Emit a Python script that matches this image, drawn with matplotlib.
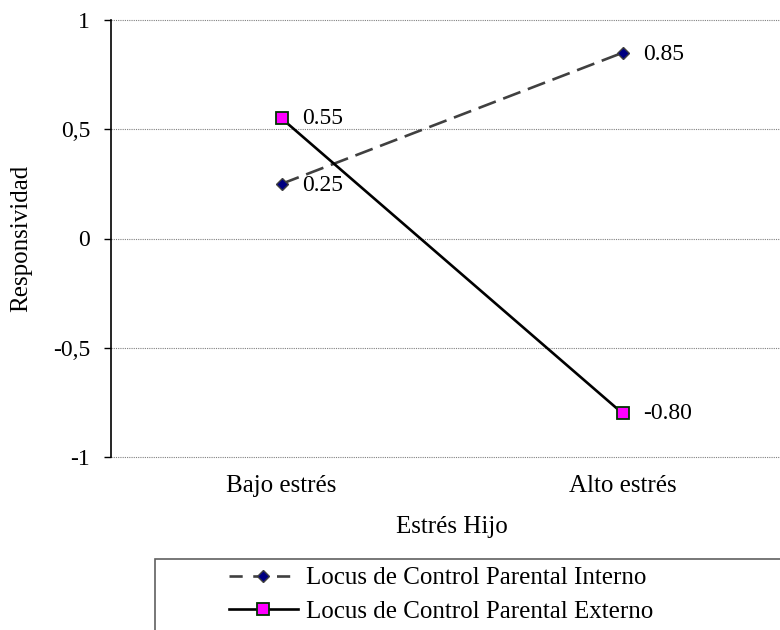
import matplotlib
matplotlib.use("Agg")
import matplotlib.pyplot as plt
from matplotlib.lines import Line2D

plt.rcParams['font.family'] = ['Liberation Serif', 'DejaVu Serif']

# datos del grafico de interaccion
categorias = ['Bajo estrés', 'Alto estrés']
interno = [0.25, 0.85]
externo = [0.55, -0.80]
yticks = [-1, -0.5, 0, 0.5, 1]
ytick_labels = ['-1', '-0,5', '0', '0,5', '1']
nombre_interno = 'Locus de Control Parental Interno'
nombre_externo = 'Locus de Control Parental Externo'

fig = plt.figure(figsize=(7.8, 6.3), dpi=100)
W, H = 780, 630
# the plot area runs past the right edge of the figure
ax = fig.add_axes([111 / W, 1 - 457 / H, 682 / W, 437 / H])

x = list(range(len(categorias)))
ax.plot(x, interno, color='#404040', lw=1.9, ls=(0, (7, 3)), marker='D', ms=6.5,
        mfc='#000080', mec='#404040', mew=1, zorder=3)
ax.plot(x, externo, color='black', lw=1.9, ls='-', marker='s', ms=9,
        mfc='#FF00FF', mec='#003300', mew=1.3, zorder=4)

for xi, v in zip(x, interno):
    ax.annotate(f'{v:.2f}', (xi, v), xytext=(15, -1), textcoords='offset points',
                va='center', ha='left', fontsize=17)
for xi, v in zip(x, externo):
    ax.annotate(f'{v:.2f}', (xi, v), xytext=(15, 0), textcoords='offset points',
                va='center', ha='left', fontsize=17)

ax.set_xlim(-0.5, 1.5)
ax.set_ylim(-1, 1)
ax.set_yticks(yticks)
ax.set_yticklabels(ytick_labels, fontsize=17)
ax.set_xticks(x)
ax.set_xticklabels(categorias, fontsize=18)
ax.tick_params(axis='x', length=0, pad=13)
ax.tick_params(axis='y', length=5, width=1, pad=10)
ax.grid(axis='y', color='#808080', ls=(0, (1, 1)), lw=0.8)
for gl in ax.get_ygridlines():
    gl.set_clip_on(False)
for s in ['top', 'right', 'bottom']:
    ax.spines[s].set_visible(False)
ax.spines['left'].set_linewidth(1.2)
ax.set_ylabel('Responsividad', fontsize=18)
ax.yaxis.set_label_coords(-0.116, 0.5)
ax.set_xlabel('Estrés Hijo', fontsize=18)
ax.xaxis.set_label_coords(0.5, -0.134)

handles = [
    Line2D([], [], color='#404040', lw=1.9, ls=(0, (5, 4)), marker='D', ms=6.5,
           mfc='#000080', mec='#404040'),
    Line2D([], [], color='black', lw=1.9, marker='s', ms=9,
           mfc='#FF00FF', mec='#003300', mew=1.3),
]
leg = fig.legend(handles, [nombre_interno, nombre_externo], loc='upper left',
                 bbox_to_anchor=(224 / W, 1 - 562 / H),
                 bbox_transform=fig.transFigure, fontsize=18,
                 frameon=False, handlelength=2.75, handletextpad=0.35,
                 borderaxespad=0, borderpad=0.2, labelspacing=0.42)
# legend frame: a box with top and left edges, open past the figure edge
fig.add_artist(plt.Rectangle((155 / W, -0.05), 1, 1 - 559 / H + 0.05,
                             transform=fig.transFigure, fill=False,
                             ec='#606060', lw=1.2))

fig.savefig('out.png', dpi=100)
